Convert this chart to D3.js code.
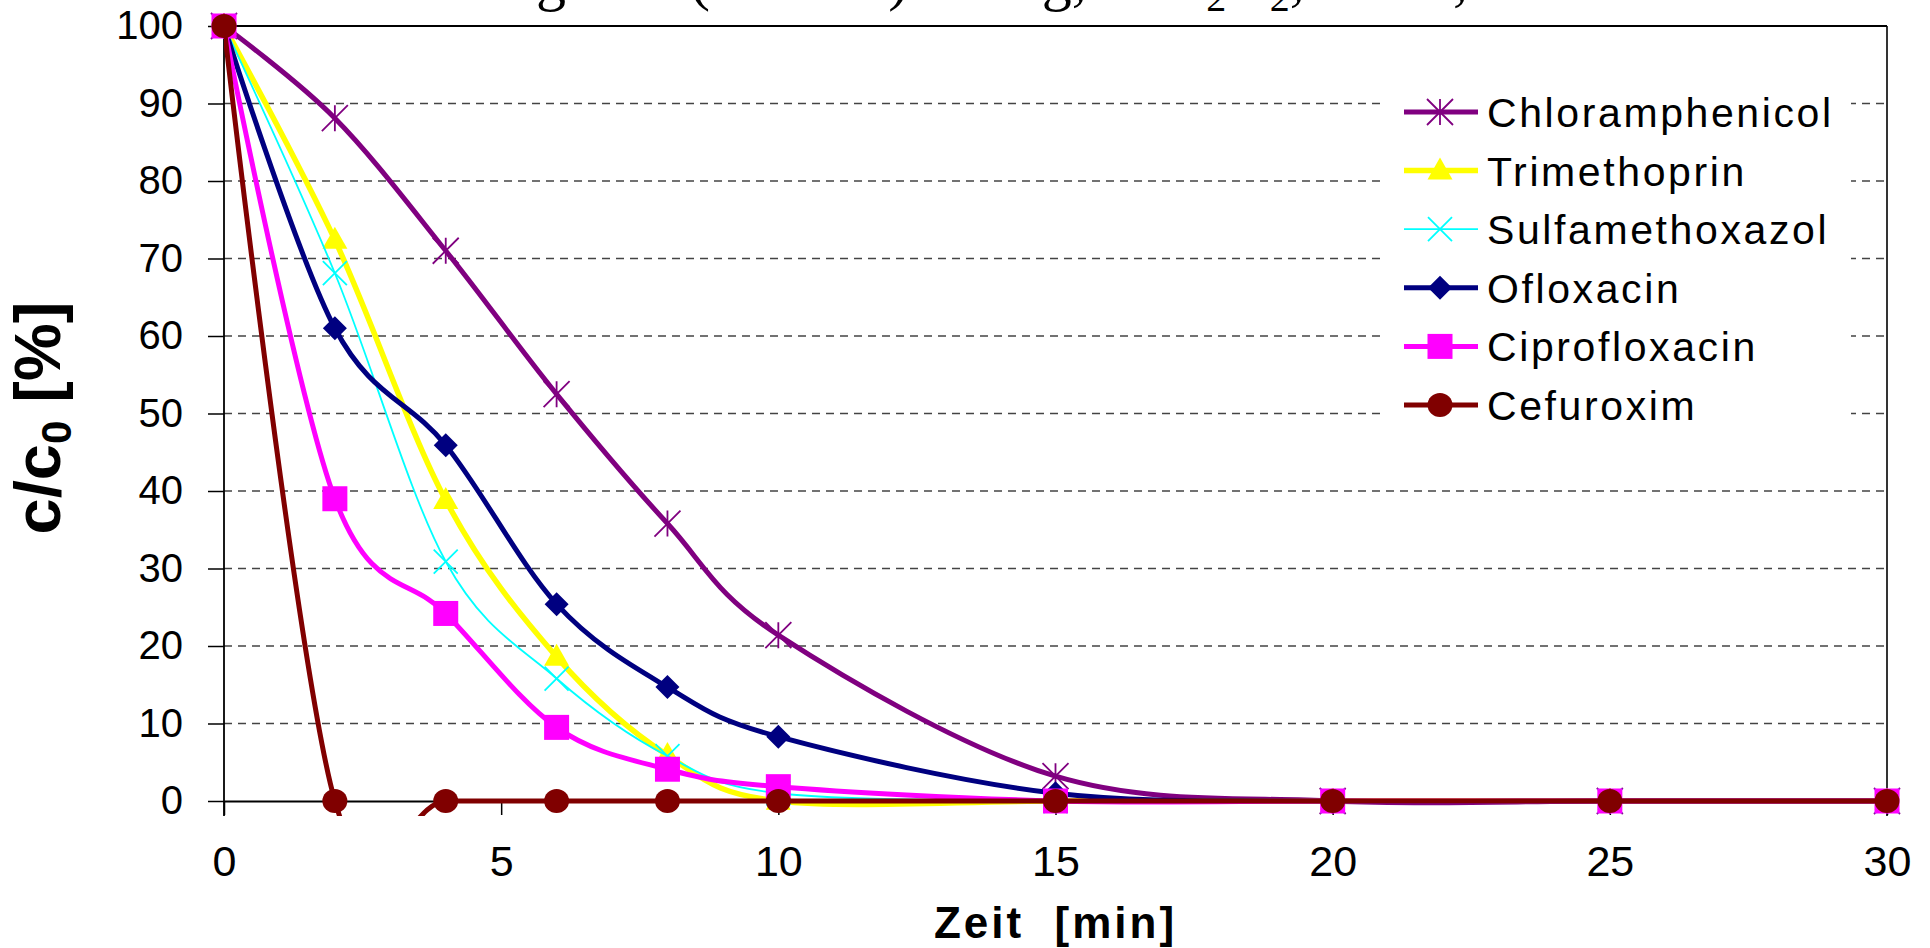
<!DOCTYPE html>
<html>
<head>
<meta charset="utf-8">
<script src="https://cdn.jsdelivr.net/npm/d3@7"></script>
<style>
  html, body { margin: 0; padding: 0; background: #fff; }
  svg { display: block; }
  text { font-family: "Liberation Sans", Arial, sans-serif; }
</style>
</head>
<body>
<script>
// ---------------- data ----------------
const times = [0, 2, 4, 6, 8, 10, 15, 20, 25, 30];
const chloramphenicol = [100, 88.1, 71.0, 52.5, 35.8, 21.4, 3.2, 0, 0, 0];
const trimethoprin    = [100, 72.4, 38.8, 18.6, 5.9, 0, 0, 0, 0, 0];
const sulfamethoxazol = [100, 68.1, 30.9, 15.8, 5.8, 1.0, 0, 0, 0, 0];
const ofloxacin       = [100, 61.0, 45.9, 25.4, 14.7, 8.3, 1.0, 0, 0, 0];
const ciprofloxacin   = [100, 39.0, 24.2, 9.5, 4.1, 1.85, 0, 0, 0, 0];
const cefuroxim       = [100, 0, 0, 0, 0, 0, 0, 0, 0, 0];

const seriesNames = ["Chloramphenicol", "Trimethoprin", "Sulfamethoxazol", "Ofloxacin", "Ciprofloxacin", "Cefuroxim"];
const seriesValues = [chloramphenicol, trimethoprin, sulfamethoxazol, ofloxacin, ciprofloxacin, cefuroxim];
const seriesColors = ["#800080", "#FFFF00", "#00FFFF", "#000080", "#FF00FF", "#800000"];
const seriesMarkers = ["star", "triangle", "x", "diamond", "square", "circle"];
const seriesWidths = [5, 5.5, 1.8, 5, 5, 5];

const xTicks = [0, 5, 10, 15, 20, 25, 30];
const yTicks = [0, 10, 20, 30, 40, 50, 60, 70, 80, 90, 100];
const gridTicks = [10, 20, 30, 40, 50, 60, 70, 80, 90];

const xLabel = "Zeit  [min]";

// ---------------- layout ----------------
const W = 1930, H = 948;
const pLeft = 224, pRight = 1887, pTop = 26, zeroY = 801, bottomClip = 816;

const svg = d3.select("body").append("svg").attr("width", W).attr("height", H);

const x = d3.scaleLinear().domain([0, 30]).range([pLeft, pRight]);
const y = d3.scaleLinear().domain([0, 100]).range([zeroY, pTop]);

// title (cut off at the top of the picture)
const serif = "'Liberation Serif', 'Times New Roman', serif";
const tY = -1;
const titleG = svg.append("g").attr("font-size", 60).attr("fill", "#000");
titleG.append("text").attr("x", 566).attr("y", tY).attr("text-anchor", "end")
  .style("font-family", serif).text("Ozonung");
titleG.append("text").attr("x", 690).attr("y", tY)
  .style("font-family", serif).text("(1 mM/l)");
titleG.append("text").attr("x", 920).attr("y", tY)
  .style("font-family", serif).text("10 mg, mit");
const h2o2 = titleG.append("text").attr("x", 1163).attr("y", tY).style("font-family", serif);
h2o2.append("tspan").text("H");
h2o2.append("tspan").attr("font-size", 40).attr("dy", 12).text("2");
h2o2.append("tspan").attr("dy", -12).text("O");
h2o2.append("tspan").attr("font-size", 40).attr("dy", 12).text("2");
h2o2.append("tspan").attr("dy", -12).text(",");
titleG.append("text").attr("x", 1468).attr("y", tY).attr("text-anchor", "end")
  .style("font-family", serif).text("20 °C,");

// gridlines
svg.append("g").selectAll("line").data(gridTicks).join("line")
  .attr("x1", pLeft).attr("x2", pRight)
  .attr("y1", d => y(d)).attr("y2", d => y(d))
  .attr("stroke", "#444").attr("stroke-width", 1.6).attr("stroke-dasharray", "8,6");

// legend background (hides gridlines)
svg.append("rect").attr("x", 1385).attr("y", 76).attr("width", 466).attr("height", 362).attr("fill", "#fff");

// borders
svg.append("line").attr("x1", pLeft).attr("x2", pRight).attr("y1", pTop).attr("y2", pTop)
  .attr("stroke", "#000").attr("stroke-width", 2.2);
svg.append("line").attr("x1", pRight).attr("x2", pRight).attr("y1", pTop).attr("y2", bottomClip)
  .attr("stroke", "#000").attr("stroke-width", 1.6);
svg.append("line").attr("x1", pLeft).attr("x2", pLeft).attr("y1", pTop).attr("y2", bottomClip)
  .attr("stroke", "#000").attr("stroke-width", 1.8);

// y axis
const yAxis = d3.axisLeft(y).tickValues(yTicks).tickSize(16).tickSizeOuter(0).tickPadding(25);
const yg = svg.append("g").attr("transform", `translate(${pLeft},0)`).call(yAxis);
yg.select(".domain").remove();
yg.selectAll(".tick line").attr("stroke", "#000").attr("stroke-width", 1.5);
yg.selectAll(".tick text").attr("font-size", 40).attr("fill", "#000")
  .style("font-family", "'Liberation Sans', Arial, sans-serif");

// x axis
const xAxis = d3.axisBottom(x).tickValues(xTicks).tickSize(14).tickSizeOuter(0).tickPadding(30);
const xg = svg.append("g").attr("transform", `translate(0,${zeroY})`).call(xAxis);
xg.select(".domain").attr("stroke", "#000").attr("stroke-width", 2);
xg.selectAll(".tick line").attr("stroke", "#000").attr("stroke-width", 1.5);
xg.selectAll(".tick text").attr("font-size", 43).attr("fill", "#000")
  .style("font-family", "'Liberation Sans', Arial, sans-serif");

// axis titles
const yl = svg.append("text").attr("transform", "translate(60,418) rotate(-90)")
  .attr("text-anchor", "middle").attr("font-weight", "bold").attr("font-size", 65).attr("fill", "#000");
yl.append("tspan").text("c/c");
yl.append("tspan").attr("font-size", 42).attr("dy", 11).text("0");
yl.append("tspan").attr("dy", -11).text(" [%]");

svg.append("text").attr("x", (pLeft + pRight) / 2).attr("y", 938).attr("text-anchor", "middle")
  .attr("font-weight", "bold").attr("font-size", 44).attr("letter-spacing", 3)
  .style("white-space", "pre").attr("fill", "#000").text(xLabel);

// clip for lines
svg.append("clipPath").attr("id", "plotclip").append("rect")
  .attr("x", pLeft).attr("y", 0).attr("width", pRight - pLeft).attr("height", bottomClip);

// marker drawing
function drawMarker(g, type, cx, cy, color) {
  if (type === "star") {
    const s = 13;
    const p = `M${cx - s},${cy - s}L${cx + s},${cy + s}M${cx - s},${cy + s}L${cx + s},${cy - s}M${cx},${cy - s}L${cx},${cy + s}`;
    g.append("path").attr("d", p).attr("stroke", color).attr("stroke-width", 1.8).attr("fill", "none");
  } else if (type === "x") {
    const s = 12;
    const p = `M${cx - s},${cy - s}L${cx + s},${cy + s}M${cx - s},${cy + s}L${cx + s},${cy - s}`;
    g.append("path").attr("d", p).attr("stroke", color).attr("stroke-width", 1.8).attr("fill", "none");
  } else if (type === "triangle") {
    const w = 12.5, h = 22;
    g.append("path").attr("d", `M${cx},${cy - h * 0.6}L${cx + w},${cy + h * 0.4}L${cx - w},${cy + h * 0.4}Z`).attr("fill", color);
  } else if (type === "diamond") {
    const s = 12;
    g.append("path").attr("d", `M${cx},${cy - s}L${cx + s},${cy}L${cx},${cy + s}L${cx - s},${cy}Z`).attr("fill", color);
  } else if (type === "square") {
    const s = 12.5;
    g.append("rect").attr("x", cx - s).attr("y", cy - s).attr("width", 2 * s).attr("height", 2 * s).attr("fill", color);
  } else if (type === "circle") {
    g.append("ellipse").attr("cx", cx).attr("cy", cy).attr("rx", 12.5).attr("ry", 12).attr("fill", color);
  }
}

const line = d3.line().x(d => x(d[0])).y(d => y(d[1])).curve(d3.curveCardinal.tension(0));

seriesValues.forEach((vals, i) => {
  const pts = times.map((t, j) => [t, vals[j]]);
  const g = svg.append("g");
  g.append("path").datum(pts).attr("d", line).attr("clip-path", "url(#plotclip)")
    .attr("fill", "none").attr("stroke", seriesColors[i]).attr("stroke-width", seriesWidths[i])
    .attr("stroke-linejoin", "round");
  pts.forEach(p => drawMarker(g, seriesMarkers[i], x(p[0]), y(p[1]), seriesColors[i]));
});

// legend
const legendY0 = 112, legendStep = 58.6;
seriesNames.forEach((name, i) => {
  const ly = legendY0 + i * legendStep;
  const g = svg.append("g");
  g.append("line").attr("x1", 1404).attr("x2", 1478).attr("y1", ly).attr("y2", ly)
    .attr("stroke", seriesColors[i]).attr("stroke-width", seriesWidths[i]);
  drawMarker(g, seriesMarkers[i], 1440, ly, seriesColors[i]);
  g.append("text").attr("x", 1487).attr("y", ly + 15).attr("font-size", 41)
    .attr("letter-spacing", 2.6).attr("fill", "#000").text(name);
});
</script>
</body>
</html>
